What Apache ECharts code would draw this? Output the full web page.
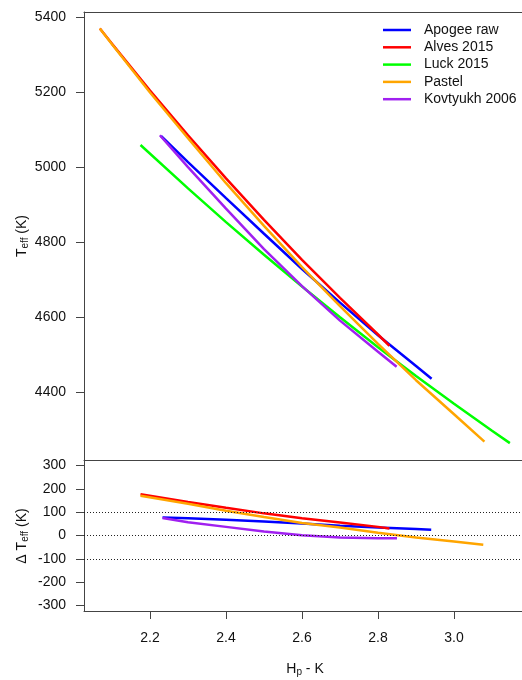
<!DOCTYPE html>
<html>
<head>
<meta charset="utf-8">
<script src="https://cdn.jsdelivr.net/npm/echarts@6/dist/echarts.min.js"></script>
<style>
  html, body { margin: 0; padding: 0; background: #fff; }
  #chart { width: 522px; height: 680px; }
</style>
</head>
<body>
<div id="chart"></div>
<script>
// ---- Data ----
const seriesNames = ['Apogee raw', 'Alves 2015', 'Luck 2015', 'Pastel', 'Kovtyukh 2006'];
const seriesColors = ['#0000ff', '#ff0000', '#00ff00', '#ffa500', '#a020f0'];

// Top panel: Teff vs Hp-K
const hpkApogee = [2.229, 2.3, 2.4, 2.5, 2.6, 2.7, 2.8, 2.9, 2.941];
const teffApogee = [5083, 5013, 4917, 4822, 4728, 4638, 4551, 4469, 4435];

const hpkAlves = [2.068, 2.1, 2.2, 2.3, 2.4, 2.5, 2.6, 2.7, 2.8, 2.83];
const teffAlves = [5370, 5329, 5204, 5085, 4970, 4859, 4752, 4651, 4553, 4523];

const hpkLuck = [2.175, 2.3, 2.4, 2.5, 2.6, 2.7, 2.8, 2.9, 3.0, 3.1, 3.147];
const teffLuck = [5059, 4943, 4853, 4766, 4681, 4599, 4519, 4442, 4368, 4296, 4263];

const hpkPastel = [2.068, 2.1, 2.2, 2.3, 2.4, 2.5, 2.6, 2.7, 2.8, 2.9, 3.0, 3.08];
const teffPastel = [5370, 5328, 5199, 5077, 4957, 4843, 4733, 4629, 4528, 4431, 4340, 4267];

const hpkKovtyukh = [2.226, 2.3, 2.4, 2.5, 2.6, 2.7, 2.8, 2.849];
const teffKovtyukh = [5085, 5000, 4889, 4781, 4682, 4590, 4507, 4467];

// Bottom panel: Delta Teff (relative to Luck 2015)
const dHpkApogee = [2.233, 2.3, 2.4, 2.5, 2.6, 2.7, 2.8, 2.9, 2.94];
const dTeffApogee = [77, 74, 68, 60, 51, 42, 34, 28, 25];

const dHpkAlves = [2.175, 2.3, 2.4, 2.5, 2.6, 2.7, 2.8, 2.83];
const dTeffAlves = [177, 144, 119, 95, 74, 56, 37, 30];

const dHpkPastel = [2.175, 2.3, 2.4, 2.5, 2.6, 2.7, 2.8, 2.9, 3.0, 3.077];
const dTeffPastel = [171, 136, 106, 79, 54, 34, 12, -9, -26, -40];

const dHpkKovtyukh = [2.233, 2.3, 2.4, 2.5, 2.6, 2.7, 2.8, 2.85];
const dTeffKovtyukh = [75, 57, 37, 17, 1, -9, -12, -12];

// Axis ticks
const xTicks = [2.2, 2.4, 2.6, 2.8, 3.0];
const yTopTicks = [4400, 4600, 4800, 5000, 5200, 5400];
const yBottomTicks = [-300, -200, -100, 0, 100, 200, 300];
const refLines = [100, 0, -100];

// ---- Chart ----
const zip = (xs, ys) => xs.map((x, i) => [x, ys[i]]);
const font = '"Liberation Sans", Arial, Helvetica, sans-serif';
const frameColor = '#444';
const textColor = '#111';

const xMin = 2.0263, xMax = 3.1789;   // panel runs past the right edge of the picture

function xAxisDef(gridIndex, position, showLabels) {
  return {
    type: 'value', gridIndex, min: xMin, max: xMax, position,
    axisLine: { show: true, onZero: false, lineStyle: { color: frameColor, width: 1 } },
    splitLine: { show: false },
    axisTick: { show: showLabels, length: 8, lineStyle: { color: frameColor, width: 1 }, customValues: xTicks },
    axisLabel: {
      show: showLabels, customValues: xTicks, margin: 20,
      color: textColor, fontSize: 14, fontFamily: font,
      formatter: v => v.toFixed(1)
    }
  };
}
function yAxisDef(gridIndex, min, max, ticks) {
  return {
    type: 'value', gridIndex, min, max,
    axisLine: { show: true, onZero: false, lineStyle: { color: frameColor, width: 1 } },
    splitLine: { show: false },
    axisTick: { show: true, length: 8, lineStyle: { color: frameColor, width: 1 }, customValues: ticks },
    axisLabel: {
      show: true, customValues: ticks, margin: 18, color: textColor, fontSize: 14, fontFamily: font,
      formatter: v => String(v)
    }
  };
}

function lineSeries(name, color, data, xi, yi) {
  return {
    name, type: 'line', xAxisIndex: xi, yAxisIndex: yi,
    data, symbol: 'none', showSymbol: false, smooth: false,
    lineStyle: { color, width: 2.5 }, itemStyle: { color },
    animation: false, silent: true
  };
}

const topData = [
  zip(hpkApogee, teffApogee), zip(hpkAlves, teffAlves), zip(hpkLuck, teffLuck),
  zip(hpkPastel, teffPastel), zip(hpkKovtyukh, teffKovtyukh)
];
const bottomData = {
  'Apogee raw': zip(dHpkApogee, dTeffApogee),
  'Alves 2015': zip(dHpkAlves, dTeffAlves),
  'Pastel': zip(dHpkPastel, dTeffPastel),
  'Kovtyukh 2006': zip(dHpkKovtyukh, dTeffKovtyukh)
};

const series = [];
seriesNames.forEach((n, i) => series.push(lineSeries(n, seriesColors[i], topData[i], 0, 0)));
// reference dotted lines in the bottom panel
series.push({
  type: 'line', xAxisIndex: 2, yAxisIndex: 1, data: [], silent: true, animation: false,
  markLine: {
    silent: true, symbol: 'none', animation: false,
    label: { show: false },
    lineStyle: { color: '#222', width: 1, type: [1, 2] },
    data: refLines.map(v => ({ yAxis: v }))
  }
});
seriesNames.forEach((n, i) => {
  if (bottomData[n]) series.push(lineSeries(n, seriesColors[i], bottomData[n], 2, 1));
});

const chart = echarts.init(document.getElementById('chart'), null, { renderer: 'canvas' });
chart.setOption({
  animation: false,
  backgroundColor: '#fff',
  textStyle: { fontFamily: font },
  grid: [
    { left: 84, top: 12, width: 438, height: 448, show: false },
    { left: 84, top: 460, width: 438, height: 151, show: false }
  ],
  xAxis: [
    xAxisDef(0, 'bottom', false),
    xAxisDef(0, 'top', false),
    xAxisDef(1, 'bottom', true)
  ],
  yAxis: [yAxisDef(0, 4218, 5414, yTopTicks), yAxisDef(1, -324, 324, yBottomTicks)],
  legend: {
    data: seriesNames,
    orient: 'vertical', left: 383, top: 23, padding: 0,
    icon: 'rect',
    itemWidth: 28, itemHeight: 2.5, itemGap: 3.3,
    textStyle: { color: textColor, fontSize: 14, fontFamily: font, lineHeight: 14, padding: [0, 0, 0, 8] },
    selectedMode: false
  },
  graphic: [
    {
      type: 'text', x: 22, y: 236, rotation: Math.PI / 2,
      style: {
        text: '{m|T}{s|eff}{m| (K)}', align: 'center', verticalAlign: 'middle',
        fill: textColor, font: '14px ' + font,
        rich: {
          m: { fontSize: 14, fontFamily: font, fill: textColor, lineHeight: 18, verticalAlign: 'middle' },
          s: { fontSize: 10, fontFamily: font, fill: textColor, lineHeight: 18, padding: [7, 0, 0, 0] }
        }
      }
    },
    {
      type: 'text', x: 22, y: 536, rotation: Math.PI / 2,
      style: {
        text: '{m|\u0394 T}{s|eff}{m| (K)}', align: 'center', verticalAlign: 'middle',
        fill: textColor, font: '14px ' + font,
        rich: {
          m: { fontSize: 14, fontFamily: font, fill: textColor, lineHeight: 18, verticalAlign: 'middle' },
          s: { fontSize: 10, fontFamily: font, fill: textColor, lineHeight: 18, padding: [7, 0, 0, 0] }
        }
      }
    },
    {
      type: 'text', x: 305, y: 669,
      style: {
        text: '{m|H}{s|p}{m| - K}', align: 'center', verticalAlign: 'middle',
        fill: textColor, font: '14px ' + font,
        rich: {
          m: { fontSize: 14, fontFamily: font, fill: textColor, lineHeight: 18, verticalAlign: 'middle' },
          s: { fontSize: 10, fontFamily: font, fill: textColor, lineHeight: 18, padding: [7, 0, 0, 0] }
        }
      }
    }
  ],
  series
});
</script>
</body>
</html>
